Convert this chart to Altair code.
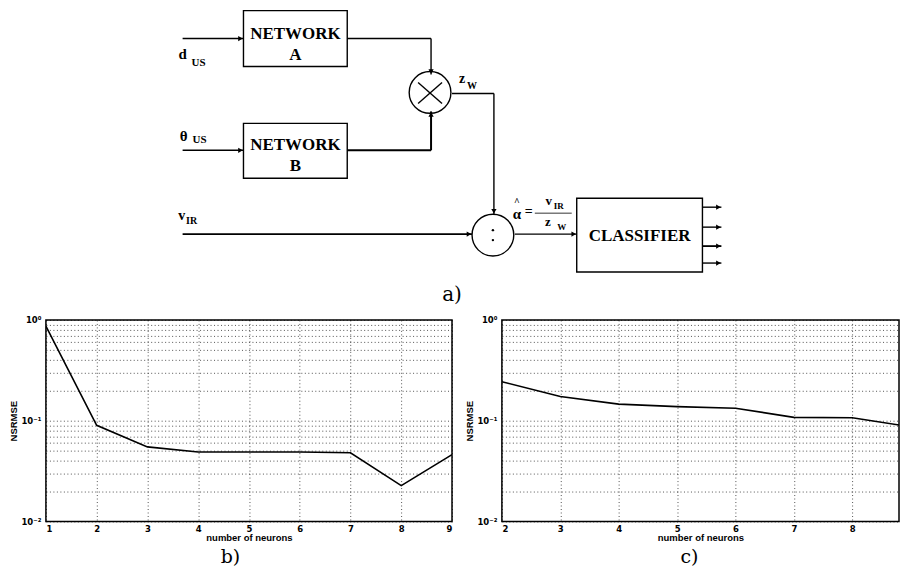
import altair as alt
import pandas as pd

# ---------------- data ----------------
neurons_b = [1, 2, 3, 4, 5, 6, 7, 8, 9]
nsrmse_b = [0.87, 0.090, 0.055, 0.049, 0.049, 0.049, 0.048, 0.0227, 0.046]

neurons_c = [2, 3, 4, 5, 6, 7, 8, 9]
nsrmse_c = [0.244, 0.174, 0.146, 0.138, 0.133, 0.108, 0.107, 0.087]

y_tick_values = [0.01, 0.02, 0.03, 0.04, 0.05, 0.06, 0.07, 0.08, 0.09,
                 0.1, 0.2, 0.3, 0.4, 0.5, 0.6, 0.7, 0.8, 0.9, 1.0]
x_ticks_b = [1, 2, 3, 4, 5, 6, 7, 8, 9]
x_ticks_c = [2, 3, 4, 5, 6, 7, 8]

x_title = "number of neurons"
y_title = "NSRMSE"

# ---------------- block diagram (layout geometry, page pixels) ----------------
box_x = [243, 243, 577]
box_x2 = [347, 347, 703]
box_y = [10, 123, 198]
box_y2 = [66, 178, 272]

seg_x = [182, 182, 347, 431, 347, 431, 452, 494, 182, 515, 703, 703, 703, 703, 535, 418, 418]
seg_y = [38, 150, 38, 38, 150, 150, 93, 93, 234, 234, 207, 227, 246, 263, 213, 82, 103]
seg_x2 = [243, 243, 431, 431, 431, 431, 494, 494, 472, 577, 722, 722, 722, 722, 572, 442, 442]
seg_y2 = [38, 150, 38, 74, 150, 111, 93, 214, 234, 234, 207, 227, 246, 263, 213, 103, 82]
seg_w = [1.4, 1.4, 1.4, 1.4, 2, 2, 1.4, 1.4, 1.6, 1.4, 1.4, 1.4, 1.8, 1.4, 0.8, 1.4, 1.4]

arrow_x = [240, 240, 431, 431, 494, 469, 574, 719, 719, 719, 719]
arrow_y = [38, 150, 71, 114, 211, 234, 234, 207, 227, 246, 263]
arrow_shape = ["triangle-right", "triangle-right", "triangle-down", "triangle-up",
               "triangle-down", "triangle-right", "triangle-right", "triangle-right",
               "triangle-right", "triangle-right", "triangle-right"]

circle_x = [430, 493]
circle_y = [92, 235]

dot_x = [493, 493]
dot_y = [230, 240]

txt = ["NETWORK", "A", "NETWORK", "B", "CLASSIFIER",
       "d", "US", "θ", "US", "v", "IR", "z", "W",
       "α", "^", "=", "v", "IR", "z", "W"]
txt_x = [295, 295, 295, 295, 640,
         182, 198, 183, 199, 181, 191, 462, 472,
         517, 517, 529, 549, 559, 548, 562]
txt_y = [33, 54, 145, 166, 236,
         53, 62, 136, 140, 216, 221, 79, 86,
         214, 202, 212, 201, 206, 222, 227]
txt_size = [17, 17, 17, 17, 17,
            15, 11, 15, 11, 14, 10, 14, 10,
            15, 10, 14, 13, 9, 13, 9]

# page position of the diagram's origin (aligned with the left edge of panel b)
X0, Y0 = 45, 8
DW, DH = 850, 305

xs = alt.Scale(domain=[X0, X0 + DW], nice=False, zero=False)
ys = alt.Scale(domain=[Y0, Y0 + DH], nice=False, zero=False, reverse=True)

boxes = pd.DataFrame({"x": box_x, "x2": box_x2, "y": box_y, "y2": box_y2})
segs = pd.DataFrame({"x": seg_x, "y": seg_y, "x2": seg_x2, "y2": seg_y2, "w": seg_w})
arrows = pd.DataFrame({"x": arrow_x, "y": arrow_y, "shape": arrow_shape})
circles = pd.DataFrame({"x": circle_x, "y": circle_y})
dots = pd.DataFrame({"x": dot_x, "y": dot_y})
texts = pd.DataFrame({"x": txt_x, "y": txt_y, "t": txt, "s": txt_size})
fig_a = pd.DataFrame({"x": [452], "y": [295], "t": ["a)"]})

X = alt.X("x:Q", scale=xs, axis=None)
Y = alt.Y("y:Q", scale=ys, axis=None)

box_layer = alt.Chart(boxes).mark_rect(fillOpacity=0, stroke="black", strokeWidth=1.4).encode(
    x=X, x2="x2:Q", y=Y, y2="y2:Q")
seg_layer = alt.Chart(segs).mark_rule(color="black").encode(
    x=X, x2="x2:Q", y=Y, y2="y2:Q", strokeWidth=alt.StrokeWidth("w:Q", scale=None))
arrow_layer = alt.Chart(arrows).mark_point(filled=True, color="black", size=28, opacity=1).encode(
    x=X, y=Y, shape=alt.Shape("shape:N", scale=None))
circle_layer = alt.Chart(circles).mark_point(shape="circle", filled=False, color="black",
                                             size=1750, strokeWidth=1.4, opacity=1).encode(x=X, y=Y)
dot_layer = alt.Chart(dots).mark_point(shape="circle", filled=True, color="black",
                                       size=6, opacity=1).encode(x=X, y=Y)
text_layer = alt.Chart(texts).mark_text(font="Liberation Serif", fontWeight="bold", color="black",
                                        align="center", baseline="middle").encode(
    x=X, y=Y, text="t:N", size=alt.Size("s:Q", scale=None))
a_layer = alt.Chart(fig_a).mark_text(font="DejaVu Serif", fontSize=20, color="black",
                                     align="center", baseline="middle").encode(x=X, y=Y, text="t:N")

diagram = alt.layer(box_layer, seg_layer, arrow_layer, circle_layer, dot_layer,
                    text_layer, a_layer).properties(
    width=DW, height=DH, view=alt.ViewBackground(stroke=None))

# ---------------- plots ----------------
label_expr = ("abs(datum.value-1)<1e-9 ? '10⁰' : abs(datum.value-0.1)<1e-9 ? '10⁻¹' : "
              "abs(datum.value-0.01)<1e-9 ? '10⁻²' : ''")

def panel(xv, yv, xdom, xticks, w, h, letter, lx, ly):
    df = pd.DataFrame({"n": xv, "e": yv})
    line = alt.Chart(df).mark_line(color="black", strokeWidth=1.6, clip=True).encode(
        x=alt.X("n:Q", scale=alt.Scale(domain=xdom, nice=False, zero=False),
                axis=alt.Axis(values=xticks, format="d", title=x_title, grid=True,
                              ticks=False, domain=False, labelPadding=3, titlePadding=0)),
        y=alt.Y("e:Q", scale=alt.Scale(type="log", domain=[0.01, 1], nice=False),
                axis=alt.Axis(values=y_tick_values, labelExpr=label_expr, title=y_title,
                              grid=True, ticks=False, domain=False, labelPadding=5,
                              minExtent=24, maxExtent=24, titlePadding=3)))
    lab = alt.Chart(pd.DataFrame({"t": [letter]})).mark_text(
        font="DejaVu Serif", fontSize=19, color="black", align="center", baseline="middle").encode(
        text="t:N", x=alt.value(lx), y=alt.value(ly))
    return alt.layer(line, lab).properties(
        width=w, height=h,
        view=alt.ViewBackground(stroke="black", strokeWidth=1.5))

pb = panel(neurons_b, nsrmse_b, [1, 9], x_ticks_b, 407, 202, "b)", 185, 238)
pc = panel(neurons_c, nsrmse_c, [2, 8.8], x_ticks_c, 398, 202, "c)", 188, 238)

bottom = alt.hconcat(pb, pc, spacing=11)

chart = alt.vconcat(diagram, bottom, spacing=2).properties(
    padding={"left": 0, "top": 0, "right": 0, "bottom": 0}
).configure_axis(
    labelFont="DejaVu Sans", labelFontWeight="bold", labelFontSize=8.5, labelColor="black",
    titleFont="Liberation Sans", titleFontWeight="bold", titleFontSize=9.5, titleColor="black",
    gridColor="black", gridDash=[1, 2.5], gridWidth=0.8, gridOpacity=0.85
).configure_view(stroke=None)

chart.save("out.html", embed_options={"renderer": "svg", "actions": False})
